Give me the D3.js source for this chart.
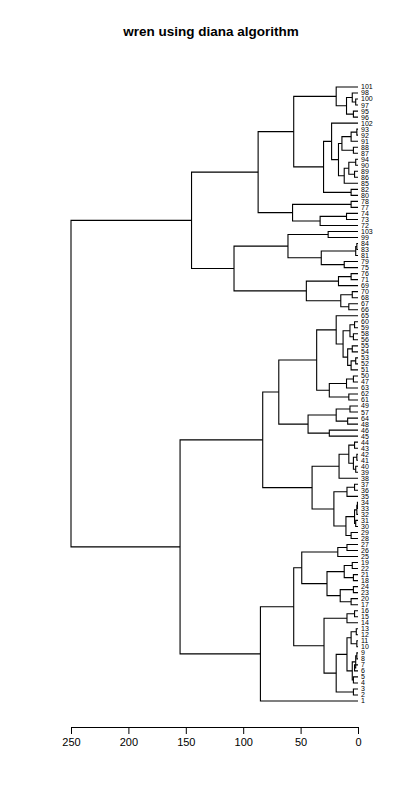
<!DOCTYPE html>
<html>
<head>
<meta charset="utf-8">
<script src="https://cdn.jsdelivr.net/npm/d3@7"></script>
<style>
  body { margin: 0; background: #fff; }
  text { font-family: "Liberation Sans", Arial, sans-serif; fill: #000; }
</style>
</head>
<body>
<svg id="chart" width="400" height="800"></svg>
<script>
// leaf labels, top to bottom
const leafLabels = [
  "101","98","100","97","95","96","102","93","92","91","88","87","94","90","89","86","85","82","80",
  "78","77","74","73","72","103","99","84","83","81","79","75","76","71","69","70","68","67","66",
  "65","60","59","58","56","55","54","53","52","51","50","47","63","62","61","49","57","64","48","46","45",
  "44","43","42","41","40","39","38","37","36","35","34","33","32","31","30","29","28",
  "27","26","25","19","22","21","18","24","23","20","17","16","15","14","13","12","11","10","9","8","7","6","5","4","3","2","1"
];

// merges: [height, left, right]; numbers are indices into leafLabels
const upper1a = [56, [19, 0, [10, [5, 1, [2, 2, 3]], [4, 4, 5]]],
  [30, [23, 6, [17, [14, [6, [1, 7, 8], 9], [4, 10, 11]], [12, [8, [2, 12, 13], [3, 14, 15]], 16]]], [6, 17, 18]]];
const upper1b = [57, [6, 19, 20], [33, [10, 21, 22], 23]];
const upper2a = [61, [26, 24, 25], [32, [2, [1, 26, 27], 28], [12, 29, 30]]];
const upper2b = [45, [17, [6, 31, 32], 33], [15, [5, 34, 35], [8, 36, 37]]];
const upper = [145, [87, upper1a, upper1b], [108, upper2a, upper2b]];

const lower1a = [69,
  [36, [19, 38, [13, [7, [3, 39, 40], [4, 41, 42]], [9, [5, 43, 44], [6, [2, 45, 46], 47]]]],
       [25, [10, [4, 48, 49], 50], [8, 51, 52]]],
  [43.5, [19, [7, 53, 54], [9, 55, 56]], [25, 57, 58]]];
const lower1b = [40, [16.5, [8, [3, 59, 60], [4, [1, 61, 62], [2, 63, 64]]], 65],
  [21, [9.6, [3, 66, 67], 68], [10.5, [3, [1, [0.5, 69, 70], 71], [2, 72, 73]], [6, 74, 75]]]];
const lower2aTop = [49, [17.6, [9.6, 76, 77], 78],
  [27, [12, [5, 79, 80], [4, 81, 82]], [15.5, [4, 83, 84], [6, 85, 86]]]];
const lower2aBottom = [29.6, [9.6, [3, 87, 88], 89],
  [19, [9.6, [6, [1.5, 90, 91], [1, 92, 93]], [5, [2, [1, 94, 95], [3, 96, 97]], [4, 98, 99]]], [4, 100, 101]]];
const lower = [155, [83, lower1a, lower1b], [85, [56, lower2aTop, lower2aBottom], 102]];

const tree = [250, upper, lower];
const axisTicks = [0, 50, 100, 150, 200, 250];

const svg = d3.select('#chart');

const x = d3.scaleLinear().domain([0, 250]).range([358, 71]);
const y = d3.scalePoint().domain(leafLabels).range([87, 701]);

svg.append('text')
    .attr('x', 211).attr('y', 36)
    .attr('text-anchor', 'middle')
    .attr('font-size', 13.5).attr('font-weight', 'bold')
    .text('wren using diana algorithm');

const g = svg.append('g');

// returns {x, y} of a node, drawing its links on the way
const draw = (node) => {
    if (typeof node === 'number') {
        const label = leafLabels[node];
        g.append('text')
            .attr('x', 361).attr('y', y(label))
            .attr('dy', '0.35em')
            .attr('font-size', 7)
            .text(label);
        return { x: x(0), y: y(label) };
    }
    const [h, l, r] = node;
    const a = draw(l), b = draw(r);
    const nx = x(h);
    g.append('path')
        .attr('d', `M${a.x},${a.y}H${nx}V${b.y}H${b.x}`)
        .attr('fill', 'none')
        .attr('stroke', 'black')
        .attr('stroke-width', 1.1);
    return { x: nx, y: (a.y + b.y) / 2 };
};
draw(tree);

const axis = d3.axisBottom(x)
    .tickValues(axisTicks)
    .tickSize(7)
    .tickSizeOuter(0)
    .tickPadding(4);
const ax = svg.append('g')
    .attr('transform', 'translate(0,727)')
    .call(axis);
ax.selectAll('text').attr('font-size', 11).attr('fill', 'black')
    .attr('font-family', '"Liberation Sans", Arial, sans-serif');
ax.selectAll('line, path').attr('stroke', 'black');
</script>
</body>
</html>
